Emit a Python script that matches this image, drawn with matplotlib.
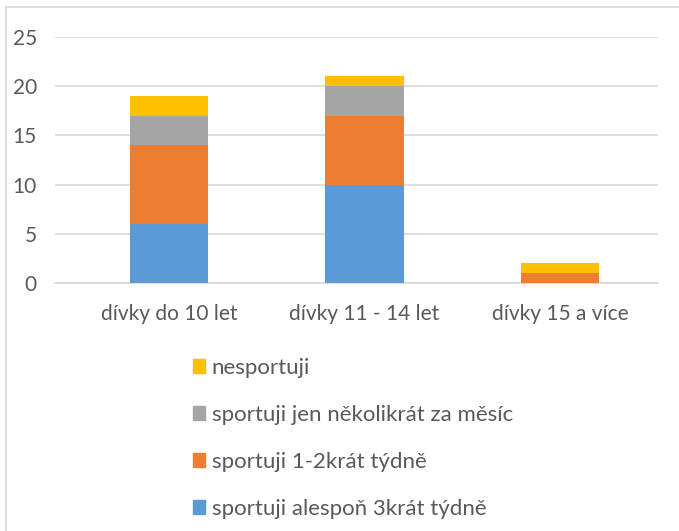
import matplotlib.pyplot as plt
from matplotlib.lines import Line2D
from matplotlib.patches import Patch

categories = ["dívky do 10 let", "dívky 11 - 14 let", "dívky 15 a více"]
series_names = [
    "sportuji alespoň 3krát týdně",
    "sportuji 1-2krát týdně",
    "sportuji jen několikrát za měsíc",
    "nesportuji",
]
alespon3 = [6, 10, 0]
jedna_dva = [8, 7, 1]
nekolikrat = [3, 3, 0]
nesportuji = [2, 1, 1]
colors = ["#5B9BD5", "#ED7D31", "#A5A5A5", "#FFC000"]

W, H = 679, 531
TEXT = "#595959"
plt.rcParams["font.family"] = ["Lato", "DejaVu Sans"]

fig = plt.figure(figsize=(W / 100, H / 100), dpi=100)
# plot area in pixels: x 55..658, y 37 (25) .. 283 (0)
ax = fig.add_axes([55 / W, 1 - 283 / H, (658 - 55) / W, (283 - 37) / H])

xs = list(range(len(categories)))
bottom = [0, 0, 0]
for vals, name, col in zip([alespon3, jedna_dva, nekolikrat, nesportuji], series_names, colors):
    ax.bar(xs, vals, width=0.4, bottom=bottom, color=col, label=name, zorder=3)
    bottom = [b + v for b, v in zip(bottom, vals)]

ax.set_xlim(-0.583, 2.50)
ax.set_ylim(0, 25)
ax.set_yticks(range(0, 26, 5))
ax.yaxis.grid(True, color="#D9D9D9", linewidth=1.2, zorder=0)
ax.set_axisbelow(True)
for s in ["top", "right", "left"]:
    ax.spines[s].set_visible(False)
ax.spines["bottom"].set_color("#D9D9D9")
ax.spines["bottom"].set_linewidth(1.2)
ax.tick_params(length=0, labelsize=15, colors=TEXT)
ax.tick_params(axis="y", pad=13)
ax.tick_params(axis="x", pad=15)
ax.set_xticks(xs)
ax.set_xticklabels(categories)

handles = [Patch(color=c) for c in colors][::-1]
labels = series_names[::-1]
fig.legend(handles, labels, loc="upper left", bbox_to_anchor=(186 / W, 1 - 351 / H),
           frameon=False, fontsize=16, labelcolor=TEXT, handlelength=0.55,
           handleheight=0.55, handletextpad=0.3, labelspacing=1.22,
           borderaxespad=0, borderpad=0.3)

# chart border (left and top visible)
fig.add_artist(Line2D([6 / W, 6 / W], [0, 1 - 7 / H], transform=fig.transFigure,
                      color="#D9D9D9", linewidth=1.2))
fig.add_artist(Line2D([6 / W, 1], [1 - 7 / H, 1 - 7 / H], transform=fig.transFigure,
                      color="#D9D9D9", linewidth=1.2))

fig.savefig("out.png", dpi=100, facecolor="white")
